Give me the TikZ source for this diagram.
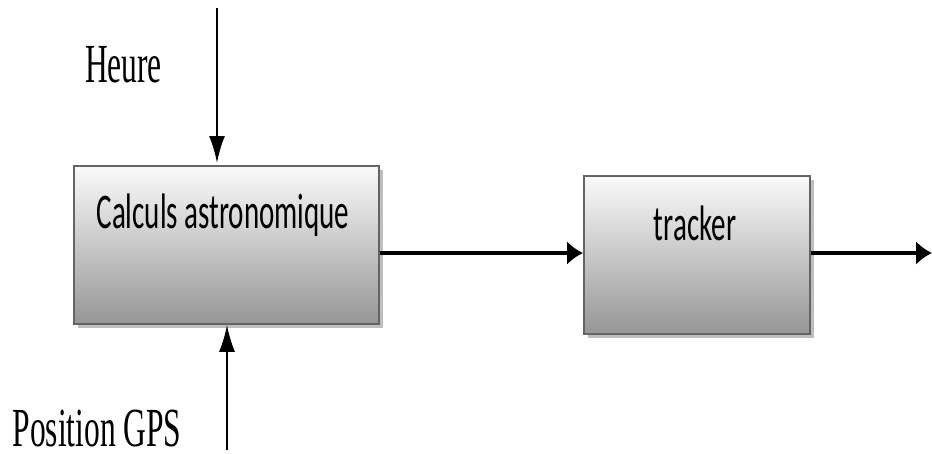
\documentclass[tikz,border=0pt]{standalone}
\usepackage{fontspec}
\setmainfont{Liberation Serif}
\newfontfamily\calib{Carlito}
\usetikzlibrary{arrows.meta,shadows}
\definecolor{boxtop}{RGB}{250,250,250}
\definecolor{boxbot}{RGB}{150,150,150}
\definecolor{boxline}{RGB}{100,100,100}
\definecolor{shadowc}{RGB}{190,190,190}
\tikzset{
  blockbox/.style={draw=boxline, line width=1.8pt, top color=boxtop, bottom color=boxbot,
    drop shadow={shadow xshift=4pt, shadow yshift=-4pt, fill=shadowc, opacity=1},
    inner sep=0pt, anchor=north west},
  blocktext/.style={font=\calib\fontsize{29}{29}\selectfont, inner sep=0pt, anchor=base},
  lbl/.style={font=\fontsize{31.5}{31.5}\selectfont, inner sep=0pt, anchor=base},
  harr/.style={line width=3.2pt, -{Latex[length=16pt,width=24pt]}},
  varr/.style={line width=2.2pt, -{Latex[length=27pt,width=16pt]}}
}
\begin{document}
\begin{tikzpicture}[x=1pt,y=-1pt]
\useasboundingbox (0,0) rectangle (932,453);
\node[blockbox, minimum width=305pt, minimum height=158pt] (b1) at (73,165) {};
\node[blockbox, minimum width=226pt, minimum height=158pt] (b2) at (583,175) {};
\node[blocktext] (t1) at (223,228) {\scalebox{1}[1.72]{Calculs astronomique}};
\node[blocktext] (t2) at (695,240) {\scalebox{1}[1.72]{tracker}};
\node[lbl] (heure) at (123.5,82) {\scalebox{1}[1.75]{Heure}};
\node[lbl] (gps) at (97,446) {\scalebox{1}[1.75]{Position GPS}};
\coordinate (h0) at (217,8);
\coordinate (g0) at (227,450);
\coordinate (out) at (932,253);
\draw[varr, shorten >=2pt] (h0) -- (h0 |- b1.north);
\draw[varr] (g0) -- (g0 |- b1.south);
\draw[harr] (b1.east |- out) -- (b2.west |- out);
\draw[harr] (b2.east |- out) -- (out);
\end{tikzpicture}
\end{document}
